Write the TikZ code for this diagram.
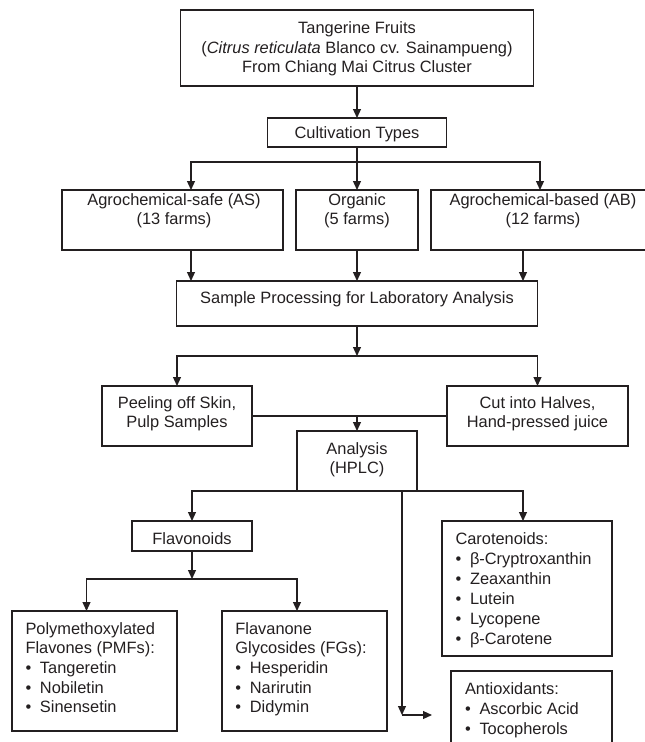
\documentclass[tikz,border=0pt]{standalone}
\usepackage{fontspec}
\setmainfont{Liberation Sans}
\usetikzlibrary{arrows.meta}
\newcommand\strutA{\rule{0pt}{13pt}}
\newcommand\itm{\makebox[14.5pt][l]{•}}
\newcommand\fsz[1]{\fontsize{16.4}{#1}\selectfont}
\definecolor{ink}{RGB}{35,31,32}
\begin{document}
\begin{tikzpicture}[x=1pt,y=-1pt,line width=1.2pt,
  box/.style={draw=ink, inner sep=0pt, outer sep=0pt},
  txt/.style={inner sep=0pt, outer sep=0pt, anchor=north, align=center, text=ink},
  lst/.style={inner sep=0pt, outer sep=0pt, anchor=north west, align=left, text=ink},
  arr/.style={draw=ink, -{Triangle[length=9pt,width=8pt]}},
  ln/.style={draw=ink}]
\useasboundingbox (0,0) rectangle (645,742);
\clip (0,0) rectangle (645,742);
% boxes
\node[box, minimum width=353pt, minimum height=76pt] (top) at (357,48) {};
\node[box, minimum width=179pt, minimum height=29pt] (cult) at (357,132.5) {};
\node[box, minimum width=221pt, minimum height=60pt] (as) at (172.5,220) {};
\node[box, minimum width=122pt, minimum height=60pt] (org) at (357,220) {};
\node[box, minimum width=218pt, minimum height=60pt] (ab) at (540,220) {};
\node[box, minimum width=361pt, minimum height=45pt] (sample) at (357,303.5) {};
\node[box, minimum width=150pt, minimum height=60pt] (peel) at (177,416) {};
\node[box, minimum width=181pt, minimum height=60pt] (cut) at (537.5,416) {};
\node[box, minimum width=120pt, minimum height=60pt] (ana) at (357,461) {};
\node[box, minimum width=120pt, minimum height=30pt] (flav) at (192,536) {};
\node[box, minimum width=165pt, minimum height=120pt] (pmf) at (94.5,671) {};
\node[box, minimum width=165pt, minimum height=120pt] (fg) at (304.5,671) {};
\node[box, minimum width=170pt, minimum height=135pt] (car) at (527,588.5) {};
\node[box, minimum width=161pt, minimum height=90pt] (anti) at (531.5,716) {};
% texts
\node[txt, font=\fsz{19.5}] (topt) at (357,20.5) {\strutA Tangerine Fruits\\(\textit{Citrus reticulata} Blanco cv. Sainampueng)\\From Chiang Mai Citrus Cluster};
\node[txt, font=\fsz{19.5}] (cultt) at (357,125) {\strutA Cultivation Types};
\node[txt, font=\fsz{18.7}] (ast) at (174,192.5) {\strutA Agrochemical-safe (AS)\\(13 farms)};
\node[txt, font=\fsz{18.7}] (orgt) at (357,192.5) {\strutA Organic\\(5 farms)};
\node[txt, font=\fsz{18.7}] (abt) at (543,192.5) {\strutA Agrochemical-based (AB)\\(12 farms)};
\node[txt, font=\fsz{19.5}] (samplet) at (357,290) {\strutA Sample Processing for Laboratory Analysis};
\node[txt, font=\fsz{19}] (peelt) at (177,395.3) {\strutA Peeling off Skin,\\Pulp Samples};
\node[txt, font=\fsz{19}] (cutt) at (537.5,395.3) {\strutA Cut into Halves,\\Hand-pressed juice};
\node[txt, font=\fsz{19}] (anat) at (357,441) {\strutA Analysis\\(HPLC)};
\node[txt, font=\fsz{19.5}] (flavt) at (192,531) {\strutA Flavonoids};
\node[lst, font=\fsz{19.7}] (pmft) at (25.5,621) {\strutA Polymethoxylated\\Flavones (PMFs):\\\itm Tangeretin\\\itm Nobiletin\\\itm Sinensetin};
\node[lst, font=\fsz{19.7}] (fgt) at (235.4,621) {\strutA Flavanone\\Glycosides (FGs):\\\itm Hesperidin\\\itm Narirutin\\\itm Didymin};
\node[lst, font=\fsz{20}] (cart) at (455.5,531) {\strutA Carotenoids:\\\itm β-Cryptroxanthin\\\itm Zeaxanthin\\\itm Lutein\\\itm Lycopene\\\itm β-Carotene};
\node[lst, font=\fsz{20}] (antit) at (465,681) {\strutA Antioxidants:\\\itm Ascorbic Acid\\\itm Tocopherols};
% junctions
\coordinate (j1) at (357,162);
\coordinate (j2) at (357,356);
\coordinate (j4) at (192,579);
\coordinate (c1) at (402,491);
\coordinate (c2) at (402,715);
\coordinate (c3) at (432,715);
% connectors
\draw[arr] (top.south) -- (cult.north);
\draw[ln] (cult.south) -- (j1);
\draw[arr] (j1) -| ([xshift=18.5pt]as.north);
\draw[arr] (j1) -- (org.north);
\draw[arr] (j1) -| (ab.north);
\draw[arr] ([xshift=18.5pt]as.south) -- ([xshift=18.5pt]as.south |- sample.north);
\draw[arr] (org.south) -- (org.south |- sample.north);
\draw[arr] ([xshift=-17pt]ab.south) -- ([xshift=-17pt]ab.south |- sample.north);
\draw[arr] (sample.south) -- (j2);
\draw[arr] (j2) -| (peel.north);
\draw[arr] (j2) -| (cut.north);
\draw[ln] (peel.east) -- (cut.west);
\draw[arr] (ana.north |- peel.east) -- (ana.north);
\draw[arr] (ana.south west) -| (flav.north);
\draw[arr] (ana.south east) -| ([xshift=-4pt]car.north);
\draw[arr] (c1) -- (c2);
\draw[arr] (c2) -- (c3);
\draw[arr] (flav.south) -- (j4);
\draw[arr] (j4) -| ([xshift=-8pt]pmf.north);
\draw[arr] (j4) -| ([xshift=-7.5pt]fg.north);
\end{tikzpicture}
\end{document}
